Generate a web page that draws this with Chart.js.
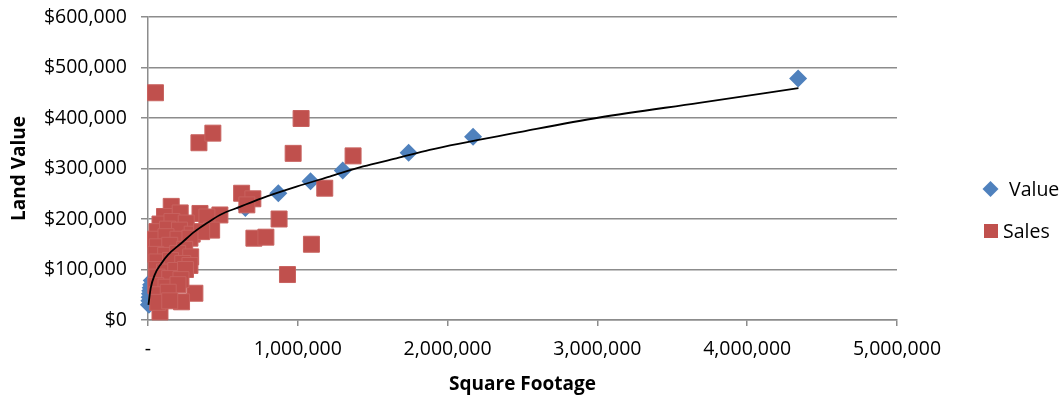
<!DOCTYPE html>
<html>
<head>
<meta charset="utf-8">
<title>Land Value vs Square Footage</title>
<script src="https://cdn.jsdelivr.net/npm/chart.js@4"></script>
<style>
  html, body { margin: 0; padding: 0; background: #ffffff; }
  #wrap { width: 1064px; height: 396px; }
</style>
</head>
<body>
<div id="wrap"><canvas id="chart" width="1064" height="396"></canvas></div>
<script>
// Assessed land value by parcel size
const valueSqFt = [6000, 9000, 11000, 13000, 15000, 18000, 21000, 25000,
  650000, 870000, 1085000, 1300000, 1740000, 2170000, 4340000];
const valueLand = [30000, 38000, 45000, 52000, 58000, 64000, 70000, 78000,
  222000, 251000, 275000, 296000, 331000, 363000, 478000];

// Recorded sales
const salesSqFt = [
  50000, 340000, 433000, 1022000, 969000, 1369000, 1180000, 625000, 700000, 660000,
  875000, 707000, 787000, 1091000, 931000, 313000, 224000, 80000,
  155000, 110000, 215000, 347000, 480000, 393000,
  80000, 160000, 255000,
  60000, 130000, 210000, 295000, 425000, 358000,
  50000, 120000, 200000, 280000,
  62000, 145000, 245000,
  52000, 118000, 198000, 285000,
  60000, 150000, 232000, 280000,
  55000, 110000, 185000, 250000,
  60000, 145000, 220000,
  52000, 120000, 200000,
  60000, 135000,
  65000, 145000
];
const salesPrice = [
  450000, 351000, 370000, 399000, 330000, 325000, 261000, 251000, 240000, 228000,
  200000, 162000, 164000, 150000, 90000, 53000, 36000, 16000,
  225000, 205000, 212000, 211000, 208000, 204000,
  190000, 195000, 192000,
  175000, 180000, 178000, 170000, 178000, 175000,
  160000, 165000, 160000, 162000,
  145000, 148000, 140000,
  130000, 128000, 132000, 125000,
  115000, 118000, 112000, 108000,
  100000, 95000, 98000, 100000,
  85000, 82000, 80000,
  68000, 65000, 70000,
  50000, 55000,
  35000, 38000
];

// Power trend line through the assessed values
const trendSqFt = [3000, 18000, 44000, 89000, 133000, 222000, 311000, 389000, 480000, 613000,
  758000, 991000, 1213000, 1436000, 1658000, 1880000, 2500000, 3013000, 3680000, 4342000];
const trendLand = [30000, 63000, 89000, 112000, 129000, 152000, 175000, 191000, 208000, 224000,
  241000, 264000, 284000, 304000, 320000, 337000, 373000, 401000, 430000, 459000];

const xTicks = [0, 1000000, 2000000, 3000000, 4000000, 5000000];
const yTicks = [0, 100000, 200000, 300000, 400000, 500000, 600000];

const seriesNames = ['Value', 'Sales'];
const seriesColors = ['#4F81BD', '#C0504D'];

const toPoints = (xs, ys) => xs.map((x, i) => ({ x: x, y: ys[i] }));

const FONT = '"Open Sans", "DejaVu Sans", sans-serif';
const tickFont = { family: FONT, size: 19.5 };
const titleFont = { family: FONT, size: 19, weight: 'bold' };
const gridColor = '#8c8c8c';

// Legend drawn at the right of the plot
const sideLegend = {
  id: 'sideLegend',
  afterDraw(chart) {
    const ctx = chart.ctx;
    ctx.save();
    ctx.font = '19.5px ' + FONT;
    ctx.textBaseline = 'alphabetic';
    ctx.textAlign = 'left';

    // diamond
    const dx = 990.5, dy = 189, r = 8;
    ctx.fillStyle = seriesColors[0];
    ctx.beginPath();
    ctx.moveTo(dx - r, dy); ctx.lineTo(dx, dy - r); ctx.lineTo(dx + r, dy); ctx.lineTo(dx, dy + r);
    ctx.closePath(); ctx.fill();
    ctx.fillStyle = '#000';
    ctx.fillText(seriesNames[0], 1009, 196);

    // square
    ctx.fillStyle = seriesColors[1];
    ctx.fillRect(984, 224, 14, 14);
    ctx.fillStyle = '#000';
    ctx.fillText(seriesNames[1], 1003, 238);
    ctx.restore();
  }
};

new Chart(document.getElementById('chart'), {
  type: 'scatter',
  data: {
    datasets: [
      {
        label: 'Trend',
        type: 'line',
        data: toPoints(trendSqFt, trendLand),
        borderColor: '#000000',
        borderWidth: 1.8,
        pointRadius: 0,
        fill: false,
        cubicInterpolationMode: 'monotone',
        clip: false,
        order: 0
      },
      {
        label: seriesNames[1],
        data: toPoints(salesSqFt, salesPrice),
        pointStyle: 'rect',
        pointRadius: 11.3,
        backgroundColor: seriesColors[1],
        borderColor: '#C8625F',
        borderWidth: 1,
        clip: false,
        order: 1
      },
      {
        label: seriesNames[0],
        data: toPoints(valueSqFt, valueLand),
        pointStyle: 'rectRot',
        pointRadius: 9,
        backgroundColor: seriesColors[0],
        borderColor: seriesColors[0],
        borderWidth: 0,
        clip: false,
        order: 2
      }
    ]
  },
  options: {
    responsive: false,
    animation: false,
    devicePixelRatio: 1,
    layout: { padding: { left: 0, right: 167, top: 17, bottom: 0 } },
    plugins: {
      legend: { display: false },
      tooltip: { enabled: false }
    },
    scales: {
      x: {
        type: 'linear',
        min: 0,
        max: 5000000,
        afterBuildTicks: (s) => { s.ticks = xTicks.map(v => ({ value: v })); },
        afterFit: (s) => { s.height = 76; s.paddingLeft = 0; s.paddingRight = 0; },
        grid: { drawOnChartArea: false, drawTicks: true, tickLength: 6, color: gridColor, lineWidth: 1.5 },
        border: { color: gridColor, width: 1.5 },
        ticks: {
          autoSkip: false,
          maxRotation: 0,
          padding: 12,
          color: '#000',
          font: tickFont,
          callback: (v) => v === 0 ? '-' : Number(v).toLocaleString('en-US')
        },
        title: {
          display: true,
          text: 'Square Footage',
          color: '#000',
          font: titleFont,
          padding: { top: 0, bottom: 0 }
        }
      },
      y: {
        type: 'linear',
        min: 0,
        max: 600000,
        afterBuildTicks: (s) => { s.ticks = yTicks.map(v => ({ value: v })); },
        afterFit: (s) => { s.width = 148; s.paddingTop = 0; s.paddingBottom = 0; },
        grid: { drawTicks: true, tickLength: 7, color: gridColor, lineWidth: 1.5 },
        border: { color: gridColor, width: 1.5 },
        ticks: {
          padding: 14,
          color: '#000',
          font: tickFont,
          callback: (v) => '$' + Number(v).toLocaleString('en-US')
        },
        title: {
          display: true,
          text: 'Land Value',
          color: '#000',
          font: titleFont,
          padding: { top: 8, bottom: 0 }
        }
      }
    }
  },
  plugins: [sideLegend]
});
</script>
</body>
</html>
